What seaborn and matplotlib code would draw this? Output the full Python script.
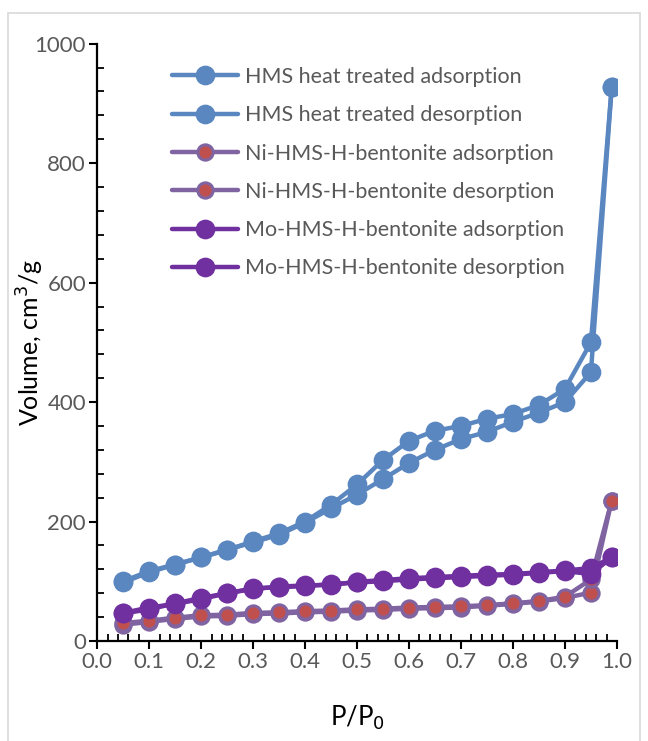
import matplotlib
matplotlib.use("Agg")
import matplotlib.pyplot as plt
import seaborn as sns
from matplotlib.ticker import MultipleLocator
from matplotlib.patches import Rectangle

# relative pressure points
p_ads = [0.05, 0.10, 0.15, 0.20, 0.25, 0.30, 0.35, 0.40, 0.45, 0.50,
         0.55, 0.60, 0.65, 0.70, 0.75, 0.80, 0.85, 0.90, 0.95, 0.99]
p_des = [0.99, 0.95, 0.90, 0.85, 0.80, 0.75, 0.70, 0.65, 0.60, 0.55,
         0.50, 0.45, 0.40, 0.35, 0.30, 0.25, 0.20, 0.15, 0.10, 0.05]

# HMS heat treated
hms_ads = [98, 115, 128, 140, 153, 165, 178, 198, 222, 245,
           271, 298, 320, 338, 350, 367, 382, 400, 450, 927]
hms_des = [927, 500, 422, 395, 380, 372, 360, 352, 335, 303,
           262, 228, 200, 180, 167, 152, 140, 128, 117, 100]

# Ni-HMS-H-bentonite
ni_ads = [27, 32, 37, 41, 42, 45, 46, 48, 49, 51,
          52, 54, 55, 56, 59, 62, 66, 72, 81, 235]
ni_des = [235, 103, 74, 67, 63, 60, 58, 57, 56, 54,
          53, 51, 50, 48, 47, 44, 43, 39, 34, 30]

# Mo-HMS-H-bentonite
mo_ads = [46, 53, 63, 72, 80, 87, 91, 93, 94, 99,
          102, 105, 107, 109, 111, 112, 115, 118, 122, 140]
mo_des = [140, 112, 117, 114, 111, 109, 107, 105, 103, 100,
          98, 95, 92, 90, 88, 80, 70, 62, 56, 47]

series = [
    ("HMS heat treated adsorption", p_ads, hms_ads, "#5B87C1", "#5B87C1", 12),
    ("HMS heat treated desorption", p_des, hms_des, "#5B87C1", "#5B87C1", 12),
    ("Ni-HMS-H-bentonite adsorption", p_ads, ni_ads, "#8064A2", "#C0504D", 11),
    ("Ni-HMS-H-bentonite desorption", p_des, ni_des, "#8064A2", "#C0504D", 11),
    ("Mo-HMS-H-bentonite adsorption", p_ads, mo_ads, "#7030A0", "#7030A0", 12),
    ("Mo-HMS-H-bentonite desorption", p_des, mo_des, "#7030A0", "#7030A0", 12),
]

sns.set_style("white")
plt.rcParams['font.family'] = ['Lato', 'DejaVu Sans']

fig = plt.figure(figsize=(6.48, 7.41), dpi=100)
ax = fig.add_axes([0.15, 0.135, 0.802, 0.806])

for label, xs, ys, lc, fc, ms in series:
    sns.lineplot(x=xs, y=ys, sort=False, ax=ax, color=lc, linewidth=3.2,
                 marker="o", markersize=ms, markerfacecolor=fc,
                 markeredgecolor=lc, markeredgewidth=2.2, label=label)

ax.set_xlim(0, 1.0)
ax.set_ylim(0, 1000)
ax.xaxis.set_major_locator(MultipleLocator(0.1))
ax.xaxis.set_minor_locator(MultipleLocator(0.02))
ax.yaxis.set_major_locator(MultipleLocator(200))
ax.yaxis.set_minor_locator(MultipleLocator(40))
ax.xaxis.set_major_formatter(matplotlib.ticker.FormatStrFormatter('%.1f'))

for s in ["top", "right"]:
    ax.spines[s].set_visible(False)
for s in ["left", "bottom"]:
    ax.spines[s].set_color("black")
    ax.spines[s].set_linewidth(1.6)

ax.tick_params(which="major", direction="out", length=6, width=1.5,
               colors="black", labelcolor="#595959", labelsize=16,
               bottom=True, left=True, pad=2)
ax.tick_params(which="minor", direction="in", length=5, width=1.3,
               colors="black", bottom=True, left=True)

ax.set_xlabel("P/P$_0$", fontsize=18.5, color="black")
ax.set_ylabel("Volume, cm$^3$/g", fontsize=18, color="black")
ax.xaxis.set_label_coords(0.5, -0.129)
ax.yaxis.set_label_coords(-0.128, 0.5)
ax.xaxis.label.set_va("center")
ax.yaxis.label.set_va("center")

leg = ax.legend(loc="upper left", bbox_to_anchor=(0.11, 0.99), frameon=False,
                fontsize=15.5, handlelength=3.1, labelspacing=0.85,
                handletextpad=0.3, labelcolor="#595959", borderpad=0.3)

fig.patches.append(Rectangle((0.012, -0.05), 0.975, 1.033, transform=fig.transFigure,
                             fill=False, edgecolor="#D9D9D9", linewidth=1.2))

fig.savefig("out.png", dpi=100)
